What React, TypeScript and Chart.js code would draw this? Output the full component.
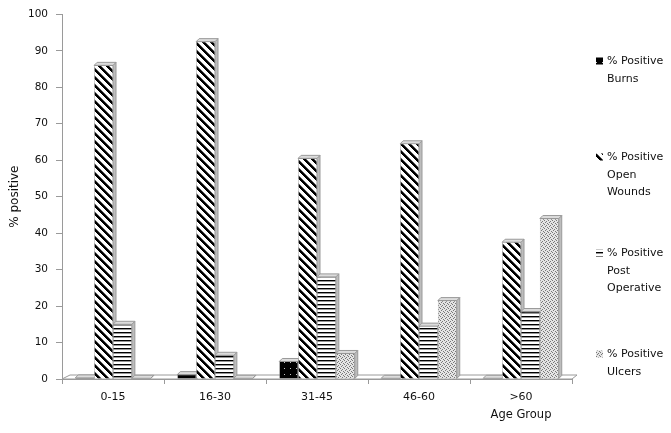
import React, { useEffect, useRef } from 'react';
import { Chart, registerables } from 'chart.js';

Chart.register(...registerables);

const categories = ['0-15', '16-30', '31-45', '46-60', '>60'];
const burns = [0.3, 1.2, 4.8, 0.2, 0.2];
const openWounds = [86, 92.5, 60.5, 64.5, 37.5];
const postOperative = [15, 6.5, 28, 14.5, 18.5];
const ulcers = [0.2, 0.2, 7, 21.5, 44];
const seriesNames = ['% Positive Burns', '% Positive Open Wounds', '% Positive Post Operative', '% Positive Ulcers'];
const legendLines = [
  ['% Positive', 'Burns'],
  ['% Positive', 'Open', 'Wounds'],
  ['% Positive', 'Post', 'Operative'],
  ['% Positive', 'Ulcers'],
];
const yMin = 0;
const yMax = 100;
const yStep = 10;
const yTitle = '% positive';
const xTitle = 'Age Group';

const FONT = '"DejaVu Sans", Verdana, sans-serif';

function makePattern(kind: string): CanvasPattern | string {
  const c = document.createElement('canvas');
  const size = kind === 'burns' ? 6 : kind === 'open' ? 8 : 4;
  c.width = size;
  c.height = size;
  const ctx = c.getContext('2d');
  if (!ctx) return '#000';
  const img = ctx.createImageData(size, size);
  for (let y = 0; y < size; y++) {
    for (let x = 0; x < size; x++) {
      let v = 255;
      if (kind === 'burns') {
        v = x === 2 && y === 2 ? 200 : 0;
      } else if (kind === 'open') {
        const d = (((x - y) % 8) + 8) % 8;
        v = d < 3 ? 0 : d === 3 ? 110 : 255;
      } else if (kind === 'post') {
        v = y === 0 ? 0 : y === 1 ? 150 : 255;
      } else {
        const dark = (x === 0 && y === 0) || (x === 2 && y === 1) || (x === 1 && y === 2) || (x === 3 && y === 3);
        v = dark ? 120 : 228;
      }
      const i = (y * size + x) * 4;
      img.data[i] = v;
      img.data[i + 1] = v;
      img.data[i + 2] = v;
      img.data[i + 3] = 255;
    }
  }
  ctx.putImageData(img, 0, 0);
  const p = ctx.createPattern(c, 'repeat');
  return p || '#000';
}

const DEPTH = 3;

const threeDPlugin = {
  id: 'threeD',
  beforeDatasetsDraw(chart: any) {
    const { ctx, chartArea } = chart;
    const L = chartArea.left;
    const R = chartArea.right;
    const B = chartArea.bottom;
    ctx.save();
    // floor
    ctx.beginPath();
    ctx.moveTo(L, B);
    ctx.lineTo(L + 8, B - 4);
    ctx.lineTo(R + 5, B - 4);
    ctx.lineTo(R, B);
    ctx.closePath();
    ctx.fillStyle = '#ffffff';
    ctx.fill();
    ctx.strokeStyle = '#9a9a9a';
    ctx.lineWidth = 1;
    ctx.stroke();
    // bar side and top faces
    chart.data.datasets.forEach((_ds: any, di: number) => {
      const meta = chart.getDatasetMeta(di);
      meta.data.forEach((el: any) => {
        const { x, y, base, width } = el.getProps(['x', 'y', 'base', 'width'], true);
        const left = x - width / 2;
        const right = x + width / 2;
        ctx.beginPath();
        ctx.moveTo(right, y);
        ctx.lineTo(right + DEPTH, y - DEPTH);
        ctx.lineTo(right + DEPTH, base - DEPTH);
        ctx.lineTo(right, base);
        ctx.closePath();
        ctx.fillStyle = '#bdbdbd';
        ctx.fill();
        ctx.strokeStyle = '#9a9a9a';
        ctx.stroke();
        ctx.beginPath();
        ctx.moveTo(left, y);
        ctx.lineTo(left + DEPTH, y - DEPTH);
        ctx.lineTo(right + DEPTH, y - DEPTH);
        ctx.lineTo(right, y);
        ctx.closePath();
        ctx.fillStyle = '#dcdcdc';
        ctx.fill();
        ctx.strokeStyle = '#9a9a9a';
        ctx.stroke();
      });
    });
    ctx.restore();
  },
};

const extrasPlugin = {
  id: 'extras',
  afterDraw(chart: any) {
    const { ctx } = chart;
    const xScale = chart.scales.x;
    ctx.save();
    // x axis title centered under last category
    ctx.font = `11.5px ${FONT}`;
    ctx.fillStyle = '#111';
    ctx.textAlign = 'center';
    ctx.textBaseline = 'middle';
    ctx.fillText(xTitle, xScale.getPixelForValue(categories.length - 1), 415);

    // legend
    const tops = [61, 157, 253, 354];
    const lineH = 17.7;
    const swX = 596;
    const textX = 607;
    ctx.font = `11px ${FONT}`;
    ctx.textAlign = 'left';
    legendLines.forEach((lines, i) => {
      const ds = chart.data.datasets[i];
      const y0 = tops[i];
      ctx.fillStyle = ds.backgroundColor;
      ctx.fillRect(swX, y0 - 3.5, 7, 7);
      ctx.fillStyle = '#111';
      lines.forEach((t, j) => {
        ctx.fillText(t, textX, y0 + j * lineH);
      });
    });
    ctx.restore();
  },
};

export default function App() {
  const ref = useRef<HTMLCanvasElement>(null);

  useEffect(() => {
    if (!ref.current) return;
    const patterns = [makePattern('burns'), makePattern('open'), makePattern('post'), makePattern('ulcers')];
    const seriesData = [burns, openWounds, postOperative, ulcers];
    const chart = new Chart(ref.current, {
      type: 'bar',
      data: {
        labels: categories,
        datasets: seriesData.map((d, i) => ({
          label: seriesNames[i],
          data: d,
          backgroundColor: patterns[i] as any,
          borderColor: '#8a8a8a',
          borderWidth: 0.6,
          categoryPercentage: 0.74,
          barPercentage: 1.0,
        })),
      },
      options: {
        responsive: false,
        animation: false,
        devicePixelRatio: 1,
        layout: { padding: { left: 0, right: 99, top: 10, bottom: 0 } },
        plugins: {
          legend: { display: false },
          tooltip: { enabled: false },
          title: { display: false },
        },
        scales: {
          x: {
            afterFit: (s: any) => {
              s.height = 54;
            },
            grid: {
              display: true,
              drawOnChartArea: false,
              drawTicks: true,
              tickLength: 5,
              color: '#9a9a9a',
              offset: true,
            },
            border: { display: true, color: '#9a9a9a' },
            ticks: {
              font: { family: FONT, size: 11 },
              color: '#111',
              padding: 7,
              maxRotation: 0,
            },
          },
          y: {
            min: yMin,
            max: yMax,
            afterFit: (s: any) => {
              s.width = 62;
            },
            grid: {
              display: true,
              drawOnChartArea: false,
              drawTicks: true,
              tickLength: 6,
              color: '#9a9a9a',
            },
            border: { display: true, color: '#9a9a9a' },
            ticks: {
              stepSize: yStep,
              font: { family: FONT, size: 10.5 },
              color: '#111',
              padding: 8,
            },
            title: {
              display: true,
              text: yTitle,
              font: { family: FONT, size: 12 },
              color: '#111',
              padding: { top: 8, bottom: 0 },
            },
          },
        },
      },
      plugins: [threeDPlugin, extrasPlugin],
    });
    return () => chart.destroy();
  }, []);

  return (
    <div style={{ position: 'fixed', left: 0, top: 0, width: 671, height: 433, background: '#fff' }}>
      <canvas ref={ref} width={671} height={433} style={{ display: 'block' }} />
    </div>
  );
}
